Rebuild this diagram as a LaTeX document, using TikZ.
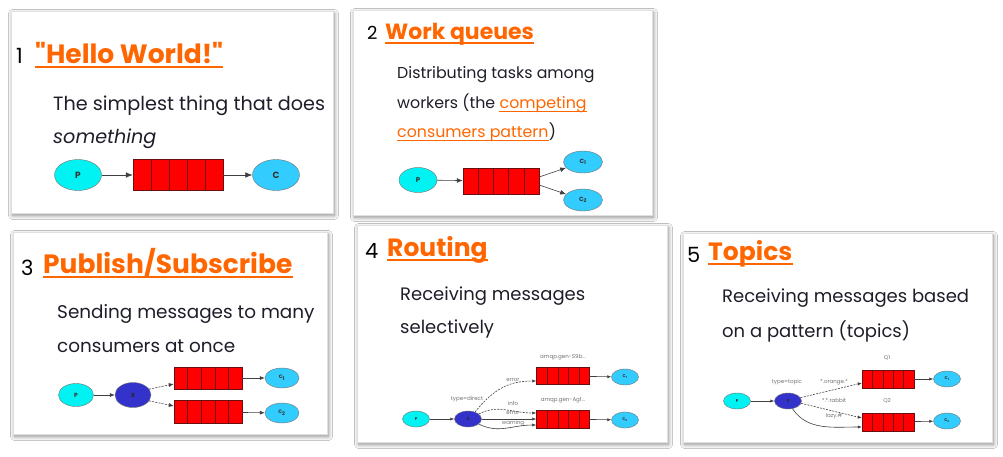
\documentclass[tikz,border=0pt]{standalone}
\usepackage{fontspec}
\setmainfont{Poppins}
\usetikzlibrary{shapes.geometric,arrows.meta,calc,shadows.blur}
\definecolor{linkorange}{HTML}{FF6600}
\definecolor{bodyink}{HTML}{1E1E2A}
\definecolor{prodcyan}{HTML}{00F2F2}
\definecolor{conscyan}{HTML}{33CCFF}
\definecolor{exchblue}{HTML}{3333CC}
\definecolor{qred}{HTML}{FF0000}
\definecolor{qedge}{HTML}{6A1010}
\newcommand\fsz[1]{\fontsize{#1}{1.2\dimexpr#1pt\relax}\selectfont}
\begin{document}
\begin{tikzpicture}[
		x=1pt, y=-1pt,
		card/.style={
			fill=white, draw=black!12,
			blur shadow={shadow xshift=1.5pt, shadow yshift=-2.5pt,
				shadow blur radius=4pt, shadow blur steps=10, shadow opacity=45}
		},
		every node/.style={inner sep=0pt, text=bodyink},
		txt/.style={anchor=base west, font=\fsz{#1}},
		num/.style={anchor=base west, font=\fsz{#1}, text=black},
		ttl/.style={anchor=base west, font=\fsz{#1}\bfseries, text=linkorange},
		link/.style={anchor=base west, font=\fsz{#1}, text=linkorange},
		uline/.style={draw=linkorange, line width=#1},
		uline/.default=2pt,
		sz/.style 2 args={minimum width=#1, minimum height=#2},
		producer/.style={ellipse, draw=black!55, fill=prodcyan, font=\fsz{#1}\bfseries, text=black!80},
		consumer/.style={ellipse, draw=black!55, fill=conscyan, font=\fsz{#1}\bfseries, text=black!80},
		exchange/.style={ellipse, draw=black!55, fill=exchblue, font=\fsz{#1}\bfseries, text=black!85},
		queue/.style={draw=qedge, fill=qred,
			path picture={
				\foreach \k in {1,...,4}
				\draw[qedge] ($(path picture bounding box.south west)!\k/5!(path picture bounding box.south east)$)
				-- ($(path picture bounding box.north west)!\k/5!(path picture bounding box.north east)$);
			}
		},
		msg/.style={-{Latex[length=#1,width=0.8*#1]}, black!75, line width=0.6pt},
		bind/.style={msg=#1, dashed, dash pattern=on 2pt off 1.2pt},
		lbl/.style={font=\fsz{5.5}, text=black!55}
		]
		
		\fill[white] (0,0) rectangle (1003,456);
		\useasboundingbox (0,0) rectangle (1003,456);
		
		% cards
		\draw[card] (11,11) rectangle (333,213);
		\draw[card] (353,10) rectangle (652,215);
		\draw[card] (13,232) rectangle (327,434);
		\draw[card] (357,225) rectangle (667,442);
		\draw[card] (683,233) rectangle (992,442);
		
		% 1 Hello World
		\node[num=21] (num1) at (16,63) {1};
		\node[ttl=26.5] (t1) at (35,63) {\textquotedbl Hello World!\textquotedbl};
		\draw[uline] ([yshift=-4pt]t1.base west) -- ([yshift=-4pt]t1.base east);
		\node[txt=19.2] (b1a) at (53,110) {The simplest thing that does};
		\node[txt=19.2, font=\fsz{19.2}\itshape] (b1b) at (53,143) {something};
		\node[producer=9, sz={47pt}{31pt}] (p1) at (78,175) {P};
		\node[queue, sz={90pt}{31pt}] (q1) at (178,175) {};
		\node[consumer=9, sz={47pt}{31pt}] (c1) at (276,175) {C};
		\draw[msg=7pt] (p1) -- (q1);
		\draw[msg=7pt] (q1) -- (c1);
		
		% 2 Work queues
		\node[num=18] (num2) at (367,39) {2};
		\node[ttl=22] (t2) at (385,39) {Work queues};
		\draw[uline] ([yshift=-3.5pt]t2.base west) -- ([yshift=-3.5pt]t2.base east);
		\node[txt=15.8] (b2a) at (397,78) {Distributing tasks among};
		\node[txt=15.8] (b2b) at (397,108) {workers (the};
		\node[link=15.8] (lk2a) at ([xshift=4pt]b2b.base east) {competing};
		\node[link=15.8] (lk2b) at (397,137) {consumers pattern};
		\node[txt=15.8] (b2c) at (lk2b.base east) {)};
		\draw[uline=1pt] ([yshift=-3pt]lk2a.base west) -- ([yshift=-3pt]lk2a.base east);
		\draw[uline=1pt] ([yshift=-3pt]lk2b.base west) -- ([yshift=-3pt]lk2b.base east);
		\node[producer=7, sz={38pt}{25pt}] (p2) at (418,180) {P};
		\node[queue, sz={76pt}{26pt}] (q2) at (501,181) {};
		\node[consumer=6, sz={39pt}{22pt}] (c21) at (583,162) {C\textsubscript{1}};
		\node[consumer=6, sz={39pt}{22pt}] (c22) at (583,200) {C\textsubscript{2}};
		\draw[msg=6pt] (p2) -- (q2);
		\draw[msg=6pt] ([yshift=4pt]q2.east) -- (c21);
		\draw[msg=6pt] ([yshift=-4pt]q2.east) -- (c22);
		
		% 3 Publish/Subscribe
		\node[num=21] (num3) at (21,275) {3};
		\node[ttl=26.5] (t3) at (43,273) {Publish/Subscribe};
		\draw[uline] ([yshift=-4pt]t3.base west) -- ([yshift=-4pt]t3.base east);
		\node[txt=18.4] (b3a) at (57,318) {Sending messages to many};
		\node[txt=18.4] (b3b) at (57,352) {consumers at once};
		\node[producer=6, sz={35pt}{23pt}] (p3) at (76,395) {P};
		\node[exchange=6, sz={36pt}{25pt}] (x3) at (133,395) {X};
		\node[queue, sz={68pt}{22pt}] (q31) at (208,378) {};
		\node[queue, sz={68pt}{23pt}] (q32) at (208,412) {};
		\node[consumer=5, sz={34pt}{20pt}] (c31) at (282,378) {C\textsubscript{1}};
		\node[consumer=5, sz={34pt}{20pt}] (c32) at (282,413) {C\textsubscript{2}};
		\draw[msg=5pt] (p3) -- (x3);
		\draw[bind=5pt] (x3.20) -- ([yshift=-6pt]q31.west);
		\draw[bind=5pt] (x3.-20) -- ([yshift=6pt]q32.west);
		\draw[msg=5pt] (q31) -- (c31);
		\draw[msg=5pt] (q32) -- (c32);
		
		% 4 Routing
		\node[num=21] (num4) at (365,258) {4};
		\node[ttl=25] (t4) at (387,256) {Routing};
		\draw[uline] ([yshift=-4pt]t4.base west) -- ([yshift=-4pt]t4.base east);
		\node[txt=18] (b4a) at (400,300) {Receiving messages};
		\node[txt=18] (b4b) at (400,333) {selectively};
		\node[producer=4, sz={27pt}{16pt}] (p4) at (416,419) {P};
		\node[exchange=4, sz={27pt}{16pt}] (x4) at (468,419) {X};
		\node[queue, sz={53pt}{17pt}] (q41) at (563,376) {};
		\node[queue, sz={53pt}{18pt}] (q42) at (563,419) {};
		\node[consumer=4, sz={27pt}{16pt}] (c41) at (625,377) {C\textsubscript{1}};
		\node[consumer=4, sz={27pt}{16pt}] (c42) at (625,420) {C\textsubscript{2}};
		\node[lbl] (a41) at (563,357) {amqp.gen-S9b...};
		\node[lbl] (a42) at (563,400) {amqp.gen-Ag1...};
		\node[lbl] (ty4) at (467,399) {type=direct};
		\node[lbl] (k41) at (513,380) {error};
		\node[lbl] (k42) at (513,403) {info};
		\node[lbl] (k43) at (513,413) {error};
		\node[lbl] (k44) at (513,423) {warning};
		\draw[msg=4pt] (p4) -- (x4);
		\draw[bind=4pt] (x4.45) .. controls +(20,-25) and +(-25,0) .. ([yshift=-5pt]q41.west);
		\draw[bind=4pt] (x4.25) .. controls +(20,-10) and +(-25,0) .. ([yshift=6pt]q42.west);
		\draw[msg=4pt] (x4.east) -- (q42.west);
		\draw[msg=4pt] (x4.-25) .. controls +(20,10) and +(-25,0) .. ([yshift=-6pt]q42.west);
		\draw[msg=4pt] (q41) -- (c41);
		\draw[msg=4pt] (q42) -- (c42);
		
		% 5 Topics
		\node[num=21] (num5) at (687,262) {5};
		\node[ttl=25] (t5) at (708,260) {Topics};
		\draw[uline] ([yshift=-4pt]t5.base west) -- ([yshift=-4pt]t5.base east);
		\node[txt=18] (b5a) at (722,302) {Receiving messages based};
		\node[txt=18] (b5b) at (722,337) {on a pattern (topics)};
		\node[producer=4, sz={27pt}{16pt}] (p5) at (737,401) {P};
		\node[exchange=4, sz={27pt}{16pt}] (x5) at (788,401) {X};
		\node[queue, sz={52pt}{18pt}] (q51) at (888,379) {};
		\node[queue, sz={52pt}{18pt}] (q52) at (888,422) {};
		\node[consumer=4, sz={27pt}{16pt}] (c51) at (947,379) {C\textsubscript{1}};
		\node[consumer=4, sz={27pt}{16pt}] (c52) at (947,421) {C\textsubscript{2}};
		\node[lbl] (qa5) at (887,358) {Q1};
		\node[lbl] (qb5) at (887,401) {Q2};
		\node[lbl] (ty5) at (787,382) {type=topic};
		\node[lbl] (k51) at (834,382) {*.orange.*};
		\node[lbl] (k52) at (834,400) {*.*.rabbit};
		\node[lbl] (k53) at (834,416) {lazy.\#};
		\draw[msg=4pt] (p5) -- (x5);
		\draw[bind=4pt] (x5.15) -- ([yshift=-4pt]q51.west);
		\draw[bind=4pt] (x5.-10) -- ([yshift=4pt]q52.west);
		\draw[msg=4pt] (x5.-60) .. controls +(15,22) and +(-30,0) .. ([yshift=-5pt]q52.west);
		\draw[msg=4pt] (q51) -- (c51);
		\draw[msg=4pt] (q52) -- (c52);
	\end{tikzpicture}
\end{document}
